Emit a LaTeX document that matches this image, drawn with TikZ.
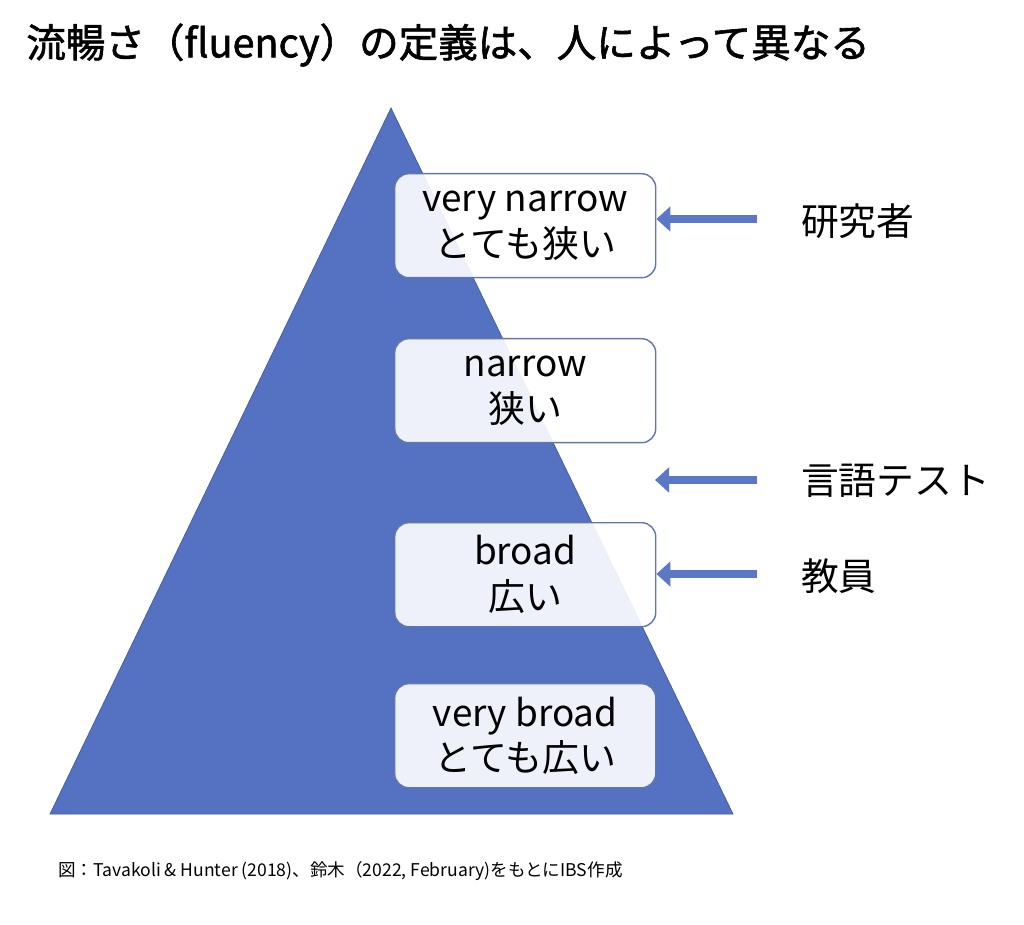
\documentclass[tikz,border=0pt]{standalone}
\usepackage{fontspec}
\usetikzlibrary{arrows.meta}
\setmainfont{Noto Sans CJK JP}
\newfontfamily\cjkb{Noto Sans CJK JP}[FakeBold=1.5]
\definecolor{tri}{HTML}{5572C2}
\definecolor{arr}{HTML}{5A78C6}
\begin{document}
\begin{tikzpicture}[x=0.02cm,y=-0.02cm,
 box/.style={draw=tri!70!gray,line width=0.8pt,rounded corners=8pt,fill=white,fill opacity=0.9,text opacity=1,minimum width=261*0.02cm,minimum height=104*0.02cm,anchor=north west,align=center,font=\fontsize{21}{26}\selectfont,inner sep=0pt},
 lab/.style={anchor=west,font=\fontsize{21.5}{26}\selectfont},
 ar/.style={draw=arr,line width=5pt,-{Triangle[length=8pt,width=14pt]}}]
\useasboundingbox (0,0) rectangle (1024,925);
\node[anchor=west,font=\cjkb\fontsize{22.5}{26}\selectfont,inner sep=0pt] (title) at (26,45) {流暢さ（fluency）の定義は、人によって異なる};
\fill[tri,draw=tri!80!black] (391,108) coordinate (apex) -- (733,814) -- (50,814) -- cycle;
\node[box] (b1) at (394,173) {very narrow\\とても狭い};
\node[box] (b2) at (394,338) {narrow\\狭い};
\node[box] (b3) at (394,522) {broad\\広い};
\node[box] (b4) at (394,683) {very broad\\とても広い};
\node[lab] (l1) at (795,221) {研究者};
\node[lab] (l2) at (795,481) {言語テスト};
\node[lab] (l3) at (795,576) {教員};
\coordinate (t2) at (655,480);
\draw[ar] (757,219) -- (b1.east |- 0,219);
\draw[ar] (757,480) -- (t2);
\draw[ar] (757,574) -- (b3.east |- 0,574);
\node[anchor=west,font=\fontsize{10}{12}\selectfont,inner sep=0pt] (src) at (58,871) {図：Tavakoli \& Hunter (2018)、鈴木（2022, February)をもとにIBS作成};
\end{tikzpicture}
\end{document}
